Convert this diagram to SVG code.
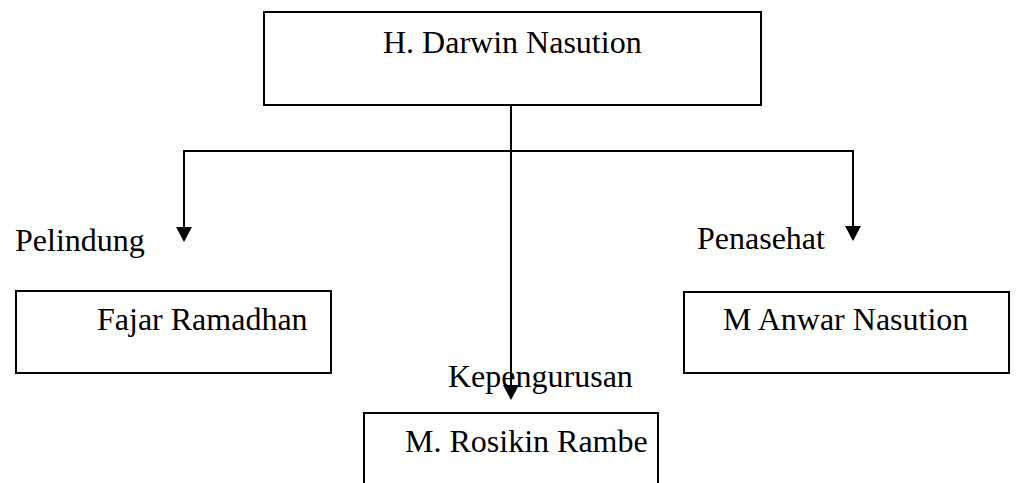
<svg xmlns="http://www.w3.org/2000/svg" width="1016" height="483" viewBox="0 0 1016 483">
<defs>
<style>
.box{fill:#fff;stroke:#000;stroke-width:2}
.t{font-family:"Liberation Serif","Times New Roman",serif;font-size:32px;fill:#000}
.ln{fill:none;stroke:#000;stroke-width:2}
.ah{fill:#000}
</style>
</defs>
<rect width="1016" height="483" fill="#fff"/>
<g id="connectors">
<path class="ln" d="M511,105 V386"/>
<path class="ln" d="M184,228 V151 H853 V227"/>
<path class="ah" d="M176,227 L192,227 L184,242 Z"/>
<path class="ah" d="M845,226 L861,226 L853,241 Z"/>
<path class="ah" d="M503,385 L519,385 L511,400 Z"/>
</g>
<g id="node-darwin">
<rect class="box" x="264" y="12" width="497" height="93"/>
<text class="t" x="383" y="53">H. Darwin Nasution</text>
</g>
<g id="label-pelindung">
<text class="t" x="15" y="251">Pelindung</text>
</g>
<g id="label-penasehat">
<text class="t" x="697" y="249">Penasehat</text>
</g>
<g id="node-fajar">
<rect class="box" x="16" y="291" width="315" height="82"/>
<text class="t" x="97" y="330">Fajar Ramadhan</text>
</g>
<g id="node-anwar">
<rect class="box" x="684" y="292" width="325" height="81"/>
<text class="t" x="723" y="330">M Anwar Nasution</text>
</g>
<g id="label-kepengurusan">
<text class="t" x="448" y="387">Kepengurusan</text>
</g>
<g id="node-rosikin">
<path class="ln" d="M364,490 V413 H658 V490"/>
<text class="t" x="405" y="452">M. Rosikin Rambe</text>
</g>
</svg>
